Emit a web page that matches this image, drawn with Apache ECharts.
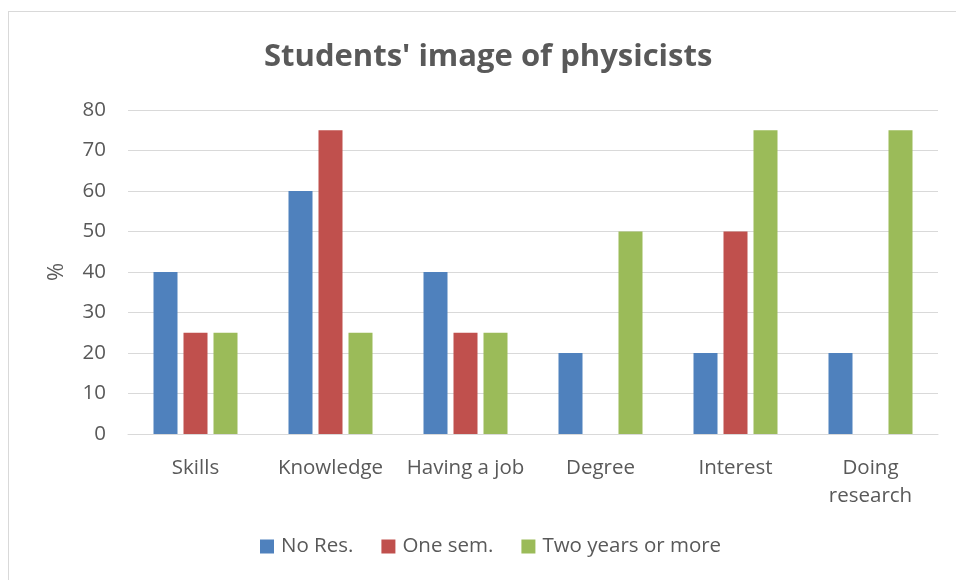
<!DOCTYPE html>
<html>
<head>
<meta charset="utf-8">
<script src="https://cdn.jsdelivr.net/npm/echarts@6/dist/echarts.min.js"></script>
<style>
  html, body { margin: 0; padding: 0; background: #fff; }
  #frame { position: absolute; left: 8px; top: 11px; width: 960px; height: 580px; border: 1px solid #d9d9d9; box-sizing: border-box; }
  #chart { width: 956px; height: 580px; }
</style>
</head>
<body>
<div id="frame"></div>
<div id="chart"></div>
<script>
// categories + series
const categories = ['Skills', 'Knowledge', 'Having a job', 'Degree', 'Interest', 'Doing\nresearch'];
const noRes = [40, 60, 40, 20, 20, 20];
const oneSem = [25, 75, 25, 0, 50, 0];
const twoYears = [25, 25, 25, 50, 75, 75];
const seriesNames = ['No Res.', 'One sem.', 'Two years or more'];
const colors = ['#4f81bd', '#c0504d', '#9bbb59'];

const textColor = '#595959';
const font = 'Open Sans';

const chart = echarts.init(document.getElementById('chart'), null, { renderer: 'canvas' });

function bar(name, data, color) {
    return {
        name: name,
        type: 'bar',
        data: data,
        barWidth: 24,
        barGap: '25%',
        itemStyle: { color: color },
        emphasis: { disabled: true }
    };
}

const option = {
    animation: false,
    title: {
        text: "Students' image of physicists",
        left: 259,
        top: 37,
        textStyle: { fontFamily: font, fontSize: 31, fontWeight: 'bold', color: textColor }
    },
    legend: {
        bottom: 18,
        left: 255,
        itemWidth: 14,
        itemHeight: 14,
        itemGap: 28,
        icon: 'rect',
        textStyle: { fontFamily: font, fontSize: 20.5, color: textColor, padding: [0, 0, 0, 2] },
        data: seriesNames
    },
    grid: {
        left: 128,
        right: 18,
        top: 110,
        bottom: 146
    },
    xAxis: {
        type: 'category',
        data: categories,
        axisLine: { lineStyle: { color: '#d9d9d9', width: 1 } },
        axisTick: { show: false },
        axisLabel: {
            fontFamily: font,
            fontSize: 20.5,
            color: textColor,
            margin: 20,
            lineHeight: 28,
            interval: 0
        }
    },
    yAxis: {
        type: 'value',
        min: 0,
        max: 80,
        interval: 10,
        name: '%',
        nameLocation: 'middle',
        nameGap: 60,
        nameTextStyle: { fontFamily: font, fontSize: 22, color: textColor },
        axisLine: { show: false },
        axisTick: { show: false },
        axisLabel: { fontFamily: font, fontSize: 20.5, color: textColor, margin: 22 },
        splitLine: { lineStyle: { color: '#d9d9d9', width: 1 } }
    },
    series: [
        bar(seriesNames[0], noRes, colors[0]),
        bar(seriesNames[1], oneSem, colors[1]),
        bar(seriesNames[2], twoYears, colors[2])
    ]
};

chart.setOption(option);
</script>
</body>
</html>
